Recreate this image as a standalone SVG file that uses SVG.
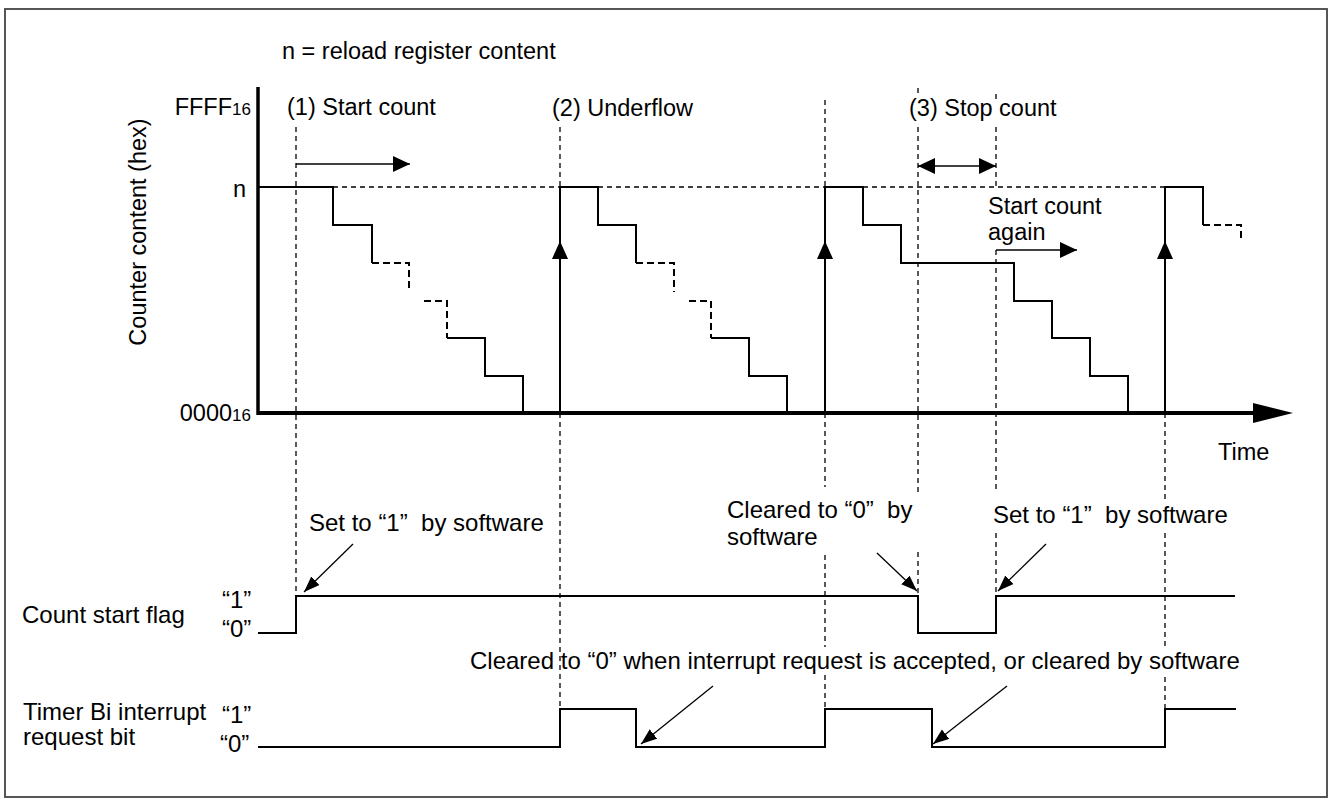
<svg xmlns="http://www.w3.org/2000/svg" width="1332" height="803" viewBox="0 0 1332 803">
<style>
.t{font-family:"Liberation Sans",Arial,Helvetica,sans-serif;font-size:23.5px;fill:#000}
.b{font-size:24px}
.g{stroke:#000;stroke-width:1.3;stroke-dasharray:5 4;fill:none}
.s{stroke:#000;stroke-width:2;fill:none}
.sd{stroke:#000;stroke-width:2;fill:none;stroke-dasharray:7 4}
.a{stroke:#000;stroke-width:1.3;fill:none}
.ax{stroke:#000;fill:none}
</style>
<defs>
<marker id="ah" markerUnits="userSpaceOnUse" markerWidth="17" markerHeight="13" refX="16" refY="6" orient="auto"><path d="M0,0 L16,6 L0,12 z" fill="#000"/></marker>
<marker id="ahL" markerUnits="userSpaceOnUse" markerWidth="18" markerHeight="18" refX="17" refY="8" orient="auto-start-reverse"><path d="M0,0 L17,8 L0,16 z" fill="#000"/></marker>
<path id="up" d="M-8,18 L0,0 L8,18 z" fill="#000"/>
</defs>
<rect x="0" y="0" width="1332" height="803" fill="#fff"/>
<rect x="5" y="9" width="1322" height="788" fill="none" stroke="#444" stroke-width="1.8"/>

<g id="guides">
<path class="g" d="M296,127 V596"/>
<path class="g" d="M560,127 V187 M560,413 V709"/>
<path class="g" d="M825,100 V187 M825,413 V487 M825,555 V647 M825,675 V709"/>
<path class="g" d="M918,88 V93 M918,127 V495 M918,552 V596"/>
<path class="g" d="M996,94 V99 M996,127 V187 M996,250 V491 M996,533 V596"/>
<path class="g" d="M1165,413 V500 M1165,533 V647 M1165,677 V709"/>
<path class="g" d="M333,187 H560 M598,187 H825 M863,187 H1165"/>
</g>

<g id="axes">
<path class="ax" stroke-width="3.5" d="M258,87 V415"/>
<path class="ax" stroke-width="4" d="M258,413 H1256"/>
<path d="M1253,403 L1293,413 L1253,423 z" fill="#000"/>
</g>

<g id="counter">
<path class="s" d="M258,187 H333 V225 H372 V263"/>
<path class="sd" d="M372,263 H409 V292 M424,301 H447 V338"/>
<path class="s" d="M447,338 H485 V376 H523 V413"/>
<path class="s" d="M560,413 V187 H598 V225 H636 V263"/>
<path class="sd" d="M636,263 H674 V292 M689,301 H711 V338"/>
<path class="s" d="M711,338 H749 V376 H787 V413"/>
<path class="s" d="M825,413 V187 H863 V225 H901 V263 H1014 V301 H1052 V338 H1090 V376 H1128 V413"/>
<path class="s" d="M1165,413 V187 H1203 V225"/>
<path class="sd" d="M1203,225 H1241 V242"/>
<use href="#up" x="560" y="241"/>
<use href="#up" x="825" y="241"/>
<use href="#up" x="1165" y="241"/>
</g>

<g id="timing-arrows">
<path class="a" stroke-width="1.6" d="M296,164 H410" marker-end="url(#ahL)"/>
<path class="a" stroke-width="1.6" d="M918,166 H996" marker-start="url(#ahL)" marker-end="url(#ahL)"/>
<path class="a" stroke-width="1.6" d="M996,250 H1077" marker-end="url(#ahL)"/>
</g>

<g id="signals">
<path class="s" d="M258,633 H296 V596 H918 V633 H996 V596 H1235"/>
<path class="s" d="M258,747 H560 V709 H636 V747 H825 V709 H932 V747 H1165 V709 H1236"/>
</g>

<g id="connectors">
<path class="a" d="M353,544 L304,592" marker-end="url(#ah)"/>
<path class="a" d="M877,553 L917,591" marker-end="url(#ah)"/>
<path class="a" d="M1046,544 L998,591" marker-end="url(#ah)"/>
<path class="a" d="M713,686 L641,744" marker-end="url(#ah)"/>
<path class="a" d="M1007,686 L933,744" marker-end="url(#ah)"/>
</g>

<g id="labels">
<text class="t" x="282" y="59">n = reload register content</text>
<text class="t" x="251" y="115" text-anchor="end">FFFF<tspan font-size="17">16</tspan></text>
<text class="t" x="287" y="115">(1) Start count</text>
<text class="t" x="552" y="116">(2) Underflow</text>
<text class="t" x="909" y="116">(3) Stop count</text>
<text class="t" x="233" y="197">n</text>
<text class="t" x="251" y="421" text-anchor="end">0000<tspan font-size="17">16</tspan></text>
<text class="t" transform="translate(146,232) rotate(-90)" text-anchor="middle">Counter content (hex)</text>
<text class="t" x="1218" y="460">Time</text>
<text class="t" x="988" y="214">Start count</text>
<text class="t" x="988" y="240">again</text>
<text class="t b" x="309" y="531" xml:space="preserve">Set to “1”  by software</text>
<text class="t b" x="727" y="518" xml:space="preserve">Cleared to “0”  by</text>
<text class="t b" x="727" y="545">software</text>
<text class="t b" x="993" y="523" xml:space="preserve">Set to “1”  by software</text>
<text class="t b" x="470" y="669">Cleared to “0” when interrupt request is accepted, or cleared by software</text>
<text class="t b" x="22" y="623">Count start flag</text>
<text class="t b" x="222" y="608">“1”</text>
<text class="t b" x="222" y="637">“0”</text>
<text class="t b" x="23" y="720">Timer Bi interrupt</text>
<text class="t b" x="23" y="745">request bit</text>
<text class="t b" x="222" y="723">“1”</text>
<text class="t b" x="220" y="752">“0”</text>
</g>
</svg>
